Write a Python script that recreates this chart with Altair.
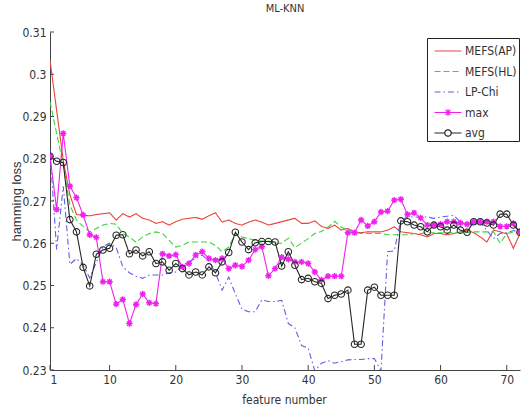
import altair as alt
import pandas as pd

features = list(range(1, 73))

mefs_ap = [0.3033, 0.2915, 0.2796, 0.2715, 0.2668, 0.2666, 0.2665, 0.2668, 0.2670, 0.2672,
           0.2655, 0.2670, 0.2662, 0.2670, 0.2659, 0.2655, 0.2647, 0.2651, 0.2643, 0.2651,
           0.2657, 0.2659, 0.2661, 0.2657, 0.2665, 0.2672, 0.2650, 0.2655, 0.2647, 0.2643,
           0.2650, 0.2655, 0.2650, 0.2643, 0.2647, 0.2651, 0.2655, 0.2659, 0.2647, 0.2647,
           0.2653, 0.2640, 0.2635, 0.2643, 0.2631, 0.2635, 0.2627, 0.2625, 0.2627, 0.2627,
           0.2627, 0.2631, 0.2639, 0.2627, 0.2625, 0.2623, 0.2620, 0.2615, 0.2623, 0.2623,
           0.2620, 0.2623, 0.2627, 0.2631, 0.2625, 0.2615, 0.2603, 0.2631, 0.2627, 0.2622,
           0.2588, 0.2623]

mefs_hl = [0.2935, 0.2860, 0.2785, 0.2690, 0.2655, 0.2640, 0.2627, 0.2635, 0.2643, 0.2647,
           0.2645, 0.2623, 0.2615, 0.2602, 0.2615, 0.2623, 0.2627, 0.2623, 0.2607, 0.2591,
           0.2595, 0.2603, 0.2603, 0.2603, 0.2603, 0.2595, 0.2580, 0.2591, 0.2623, 0.2615,
           0.2611, 0.2607, 0.2605, 0.2605, 0.2600, 0.2600, 0.2612, 0.2590, 0.2600, 0.2611,
           0.2623, 0.2628, 0.2638, 0.2652, 0.2638, 0.2631, 0.2625, 0.2623, 0.2623, 0.2623,
           0.2623, 0.2620, 0.2620, 0.2620, 0.2620, 0.2623, 0.2623, 0.2625, 0.2625, 0.2625,
           0.2625, 0.2625, 0.2625, 0.2625, 0.2627, 0.2627, 0.2627, 0.2627, 0.2600, 0.2623,
           0.2626, 0.2623]

lp_chi = [0.2820, 0.2585, 0.2735, 0.2550, 0.2564, 0.2548, 0.2518, 0.2555, 0.2592, 0.2600,
          0.2590, 0.2544, 0.2530, 0.2522, 0.2517, 0.2525, 0.2525, 0.2525, 0.2530, 0.2532,
          0.2548, 0.2556, 0.2564, 0.2572, 0.2558, 0.2530, 0.2489, 0.2520, 0.2480, 0.2444,
          0.2438, 0.2438, 0.2466, 0.2462, 0.2462, 0.2465, 0.2410, 0.2400, 0.2358, 0.2352,
          0.2298, 0.2316, 0.2322, 0.2316, 0.2320, 0.2324, 0.2325, 0.2325, 0.2327, 0.2327,
          0.2298, 0.2580, 0.2582, 0.2655, 0.2662, 0.2662, 0.2662, 0.2662, 0.2659, 0.2662,
          0.2664, 0.2666, 0.2650, 0.2645, 0.2643, 0.2650, 0.2630, 0.2611, 0.2623, 0.2625,
          0.2630, 0.2626]

max_vals = [0.2806, 0.2680, 0.2860, 0.2735, 0.2708, 0.2667, 0.2620, 0.2614, 0.2509, 0.2509,
            0.2456, 0.2467, 0.2410, 0.2455, 0.2480, 0.2459, 0.2457, 0.2575, 0.2570, 0.2573,
            0.2544, 0.2552, 0.2572, 0.2580, 0.2564, 0.2560, 0.2564, 0.2540, 0.2548, 0.2545,
            0.2560, 0.2585, 0.2592, 0.2523, 0.2540, 0.2567, 0.2562, 0.2556, 0.2556, 0.2552,
            0.2532, 0.2513, 0.2522, 0.2522, 0.2522, 0.2625, 0.2625, 0.2655, 0.2641, 0.2651,
            0.2674, 0.2676, 0.2702, 0.2704, 0.2668, 0.2672, 0.2660, 0.2643, 0.2643, 0.2645,
            0.2651, 0.2651, 0.2648, 0.2645, 0.2651, 0.2651, 0.2651, 0.2651, 0.2640, 0.2640,
            0.2647, 0.2627]

avg_vals = [0.2806, 0.2794, 0.2791, 0.2656, 0.2627, 0.2543, 0.2499, 0.2574, 0.2584, 0.2588,
            0.2619, 0.2620, 0.2575, 0.2584, 0.2570, 0.2580, 0.2552, 0.2556, 0.2536, 0.2552,
            0.2540, 0.2525, 0.2532, 0.2525, 0.2544, 0.2530, 0.2556, 0.2578, 0.2626, 0.2603,
            0.2585, 0.2601, 0.2604, 0.2604, 0.2603, 0.2546, 0.2580, 0.2548, 0.2514, 0.2517,
            0.2509, 0.2505, 0.2469, 0.2477, 0.2480, 0.2489, 0.2361, 0.2361, 0.2489, 0.2496,
            0.2477, 0.2477, 0.2477, 0.2653, 0.2651, 0.2643, 0.2639, 0.2627, 0.2643, 0.2639,
            0.2631, 0.2643, 0.2631, 0.2626, 0.2651, 0.2651, 0.2648, 0.2643, 0.2669, 0.2669,
            0.2643, 0.2626]

series_names = ["MEFS(AP)", "MEFS(HL)", "LP-Chi", "max", "avg"]
series_colors = ["#e8453c", "#3cd43c", "#5f5fe8", "#f020f0", "#262626"]
series_dashes = [[1, 0], [6, 3], [6, 3, 1.5, 3], [1, 0], [1, 0]]

x_ticks = [1, 10, 20, 30, 40, 50, 60, 70]
y_ticks = [0.23, 0.24, 0.25, 0.26, 0.27, 0.28, 0.29, 0.30, 0.31]

rows = []
for name, vals in zip(series_names, [mefs_ap, mefs_hl, lp_chi, max_vals, avg_vals]):
    for f, v in zip(features, vals):
        rows.append({"feature": f, "value": v, "series": name})
df = pd.DataFrame(rows)

NARROW = "Liberation Sans Narrow, DejaVu Sans Condensed, Liberation Sans, sans-serif"
W, H = 470, 338

xscale = alt.Scale(domain=[1, 72], nice=False, zero=False)
yscale = alt.Scale(domain=[0.23, 0.31], nice=False, zero=False)

line_path = "M-1.35,0L1.35,0"
avg_path = ("M-1.35,0L-0.32,0M0.32,0L1.35,0M0.32,0A0.32,0.32,0,1,1,-0.32,0"
            "A0.32,0.32,0,1,1,0.32,0")
max_path = ("M-1.35,0L1.35,0M0,-0.34L0,0.34M-0.25,-0.25L0.25,0.25"
            "M-0.25,0.25L0.25,-0.25")
shape_expr = ("datum.value === 'avg' ? '" + avg_path + "' : (datum.value === 'max' ? '"
              + max_path + "' : '" + line_path + "')")

legend = alt.Legend(
    title=None, orient="none", legendX=377, legendY=6,
    strokeColor="#222", fillColor="white", padding=2,
    symbolSize=400, symbolStrokeWidth=1.2, symbolOffset=8,
    symbolType={"expr": shape_expr}, symbolFillColor="transparent",
    labelFont=NARROW, labelFontSize=12, labelColor="#333", labelOffset=6,
    rowPadding=3.5,
)

base = alt.Chart(df)

lines = base.mark_line(strokeWidth=1.1, clip=True).encode(
    x=alt.X("feature:Q", scale=xscale,
            axis=alt.Axis(values=x_ticks, title="feature number", titleX=234, titleY=24,
                          titleBaseline="top", titleAlign="center")),
    y=alt.Y("value:Q", scale=yscale,
            axis=alt.Axis(values=y_ticks, format=".2~f", title="hamming loss",
                          titleX=-34, titleY=169, titleAngle=270, titleBaseline="middle",
                          titleAlign="center")),
    color=alt.Color("series:N", scale=alt.Scale(domain=series_names, range=series_colors),
                    legend=legend),
    strokeDash=alt.StrokeDash("series:N",
                              scale=alt.Scale(domain=series_names, range=series_dashes),
                              legend=legend),
    detail="series:N",
)

star_shape = "M-1,0L1,0M0,-1L0,1M-0.7,-0.7L0.7,0.7M-0.7,0.7L0.7,-0.7"
stars = base.transform_filter(alt.datum.series == "max").mark_point(
    shape=star_shape, filled=False, size=40, strokeWidth=1.4, color="#f020f0",
    opacity=1, clip=True,
).encode(x=alt.X("feature:Q", scale=xscale), y=alt.Y("value:Q", scale=yscale))

circles = base.transform_filter(alt.datum.series == "avg").mark_point(
    shape="circle", filled=False, size=42, strokeWidth=1.1, color="#262626",
    opacity=1, clip=True,
).encode(x=alt.X("feature:Q", scale=xscale), y=alt.Y("value:Q", scale=yscale))

ytick_df = pd.DataFrame({"v": y_ticks})
xtick_df = pd.DataFrame({"v": x_ticks})
yt = alt.Chart(ytick_df).mark_rule(color="#444", strokeWidth=1).encode(
    y=alt.Y("v:Q", scale=yscale), x=alt.value(0), x2=alt.value(4))
xt = alt.Chart(xtick_df).mark_rule(color="#444", strokeWidth=1).encode(
    x=alt.X("v:Q", scale=xscale), y=alt.value(H), y2=alt.value(H - 5))

chart = alt.layer(lines, stars, circles, yt, xt).properties(
    width=W, height=H,
    autosize=alt.AutoSizeParams(type="none"),
    padding={"left": 50, "top": 32, "right": 4, "bottom": 37},
    title=alt.TitleParams("ML-KNN", font=NARROW, fontSize=11, fontWeight="normal",
                          color="#333", offset=12, anchor="middle"),
).configure_view(stroke=None).configure_axis(
    grid=False, ticks=False, domainColor="#444", domainWidth=1,
    labelFont=NARROW, labelFontSize=12, labelColor="#333", labelPadding=4,
    titleFont=NARROW, titleFontSize=12, titleColor="#333", titleFontWeight="normal",
).configure_axisY(titleFont="Liberation Sans, sans-serif", titleFontSize=13)

chart.save("out.html", embed_options={"renderer": "svg", "actions": False})
